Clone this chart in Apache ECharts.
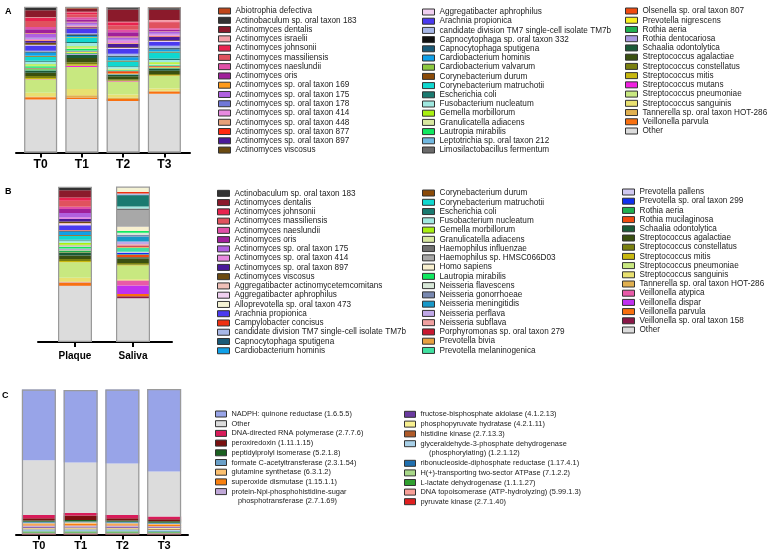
<!DOCTYPE html>
<html><head><meta charset="utf-8">
<script src="https://cdn.jsdelivr.net/npm/echarts@6/dist/echarts.min.js"></script>
<style>html,body{margin:0;padding:0;background:#fff}#c{width:769px;height:553px}</style>
</head><body><div id="c"></div>
<script>
// ---------- DATA ----------
const catA = ['T0', 'T1', 'T2', 'T3'];
const speciesA = [
 'Abiotrophia defectiva','Actinobaculum sp. oral taxon 183','Actinomyces dentalis','Actinomyces israelii',
 'Actinomyces johnsonii','Actinomyces massiliensis','Actinomyces naeslundii','Actinomyces oris',
 'Actinomyces sp. oral taxon 169','Actinomyces sp. oral taxon 175','Actinomyces sp. oral taxon 178',
 'Actinomyces sp. oral taxon 414','Actinomyces sp. oral taxon 448','Actinomyces sp. oral taxon 877',
 'Actinomyces sp. oral taxon 897','Actinomyces viscosus',
 'Aggregatibacter aphrophilus','Arachnia propionica','candidate division TM7 single-cell isolate TM7b',
 'Capnocytophaga sp. oral taxon 332','Capnocytophaga sputigena','Cardiobacterium hominis',
 'Cardiobacterium valvarum','Corynebacterium durum','Corynebacterium matruchotii','Escherichia coli',
 'Fusobacterium nucleatum','Gemella morbillorum','Granulicatella adiacens','Lautropia mirabilis',
 'Leptotrichia sp. oral taxon 212','Limosilactobacillus fermentum',
 'Olsenella sp. oral taxon 807','Prevotella nigrescens','Rothia aeria','Rothia dentocariosa',
 'Schaalia odontolytica','Streptococcus agalactiae','Streptococcus constellatus','Streptococcus mitis',
 'Streptococcus mutans','Streptococcus pneumoniae','Streptococcus sanguinis',
 'Tannerella sp. oral taxon HOT-286','Veillonella parvula','Other'
];
const valuesA_T0 = [0.3,2.1,4.9,0.4,2.1,4.2,1.5,2.8,0.3,2.8,0.4,1.1,0.3,0.3,1.3,1.3,0.6,3.6,0.4,0.3,0.6,2.1,0.3,0.6,2.6,0.6,1.7,0.9,0.6,0.9,0.3,0.2,0.2,0.3,0.9,0.3,1.3,2.3,1.3,0.8,0.2,9.1,2.6,0.5,1.5,36.5];
const valuesA_T1 = [1.2,0.3,2.0,0.3,1.4,2.0,1.6,1.6,0.3,1.6,0.5,0.7,0.3,0.3,0.7,0.3,0.3,2.8,0.7,0.3,0.9,0.7,0.3,0.3,2.8,0.7,2.2,1.0,1.0,1.0,0.5,0.3,0.2,0.5,0.7,0.8,2.1,3.0,1.4,1.0,0.8,15.2,4.2,1.6,1.0,36.8];
const valuesA_T2 = [0.3,1.4,8.5,0.3,2.0,3.2,1.6,3.0,0.5,1.7,0.4,1.8,0.5,0.3,2.2,0.5,0.5,3.4,1.4,0.3,0.7,2.3,0.3,0.3,3.4,0.5,1.2,0.3,0.5,0.3,0.3,0.2,1.6,0.3,0.3,0.3,1.0,2.1,0.9,0.5,0.2,8.8,2.1,1.0,1.4,35.4];
const valuesA_T3 = [0.3,1.4,7.0,1.0,0.5,4.2,1.0,1.0,0.3,1.4,0.5,1.0,0.3,0.3,2.4,0.5,0.5,2.8,1.4,0.3,0.9,1.4,0.3,0.3,4.2,1.0,1.6,1.0,0.7,0.5,0.3,0.2,0.7,0.3,0.5,0.3,1.4,2.1,0.7,0.5,0.2,8.6,1.6,0.5,1.6,40.3];

const catB = ['Plaque', 'Saliva'];
const speciesB = [
 'Actinobaculum sp. oral taxon 183','Actinomyces dentalis','Actinomyces johnsonii','Actinomyces massiliensis',
 'Actinomyces naeslundii','Actinomyces oris','Actinomyces sp. oral taxon 175','Actinomyces sp. oral taxon 414',
 'Actinomyces sp. oral taxon 897','Actinomyces viscosus','Aggregatibacter actinomycetemcomitans',
 'Aggregatibacter aphrophilus','Alloprevotella sp. oral taxon 473','Arachnia propionica','Campylobacter concisus',
 'candidate division TM7 single-cell isolate TM7b','Capnocytophaga sputigena','Cardiobacterium hominis',
 'Corynebacterium durum','Corynebacterium matruchotii','Escherichia coli','Fusobacterium nucleatum',
 'Gemella morbillorum','Granulicatella adiacens','Haemophilus influenzae','Haemophilus sp. HMSC066D03',
 'Homo sapiens','Lautropia mirabilis','Neisseria flavescens','Neisseria gonorrhoeae','Neisseria meningitidis',
 'Neisseria perflava','Neisseria subflava','Porphyromonas sp. oral taxon 279','Prevotella bivia',
 'Prevotella melaninogenica',
 'Prevotella pallens','Prevotella sp. oral taxon 299','Rothia aeria','Rothia mucilaginosa','Schaalia odontolytica',
 'Streptococcus agalactiae','Streptococcus constellatus','Streptococcus mitis','Streptococcus pneumoniae',
 'Streptococcus sanguinis','Tannerella sp. oral taxon HOT-286','Veillonella atypica','Veillonella dispar',
 'Veillonella parvula','Veillonella sp. oral taxon 158','Other'
];
const valuesB_Plaque = [2.2,4.6,2.2,3.8,1.5,2.6,2.8,1.0,1.7,1.0,0.5,0.5,0.3,3.2,0.3,0.3,0.5,2.0,
 0.5,2.6,0.5,1.5,1.2,0.6,0.3,0.3,0.3,1.0,0.15,0.15,0.15,0.15,0.15,0.15,0.15,0.15,
 0.15,0.15,1.0,0.3,1.7,2.2,1.3,0.8,10.1,2.4,0.6,0.2,0.2,1.7,0.2,36.1];
const valuesB_Saliva = [0,0.2,0,0,0,0,0,0,0,0,0,0,3.4,0,0.9,0.8,0.3,0,
 0,0,7.3,1.3,0,0,0.9,10.8,2.8,1.1,1.5,1.0,3.2,1.7,0.9,0.8,0.6,2.6,
 0.8,0.8,0.3,1.7,0.8,2.8,1.1,0.6,8.8,0.6,0.3,3.2,5.4,1.5,1.3,28.2];

const catC = ['T0', 'T1', 'T2', 'T3'];
const enzymesC = [
 'NADPH: quinone reductase (1.6.5.5)','Other','DNA-directed RNA polymerase (2.7.7.6)','peroxiredoxin (1.11.1.15)',
 'peptidylprolyl isomerase (5.2.1.8)','formate C-acetyltransferase (2.3.1.54)','glutamine synthetase (6.3.1.2)',
 'superoxide dismutase (1.15.1.1)','protein-Npi-phosphohistidine-sugar phosphotransferase (2.7.1.69)',
 'fructose-bisphosphate aldolase (4.1.2.13)','phosphopyruvate hydratase (4.2.1.11)','histidine kinase (2.7.13.3)',
 'glyceraldehyde-3-phosphate dehydrogenase (phosphorylating) (1.2.1.12)',
 'ribonucleoside-diphosphate reductase (1.17.4.1)','H(+)-transporting two-sector ATPase (7.1.2.2)',
 'L-lactate dehydrogenase (1.1.1.27)','DNA topoisomerase (ATP-hydrolyzing) (5.99.1.3)','pyruvate kinase (2.7.1.40)'
];
const valuesC_T0 = [48.5,37.7,2.3,1.4,1.0,0.9,0.8,0.9,0.8,0.6,0.6,0.5,0.8,0.6,0.6,0.5,0.6,0.5];
const valuesC_T1 = [49.8,34.7,1.8,3.0,1.0,0.8,0.8,1.3,0.7,0.6,0.7,0.5,0.8,0.6,0.6,0.5,0.6,0.5];
const valuesC_T2 = [50.8,35.4,2.3,1.4,1.0,0.9,0.8,0.9,0.8,0.6,0.6,0.5,0.8,0.6,0.6,0.5,0.6,0.5];
const valuesC_T3 = [56.7,31.0,1.8,1.4,1.0,0.8,0.8,0.8,0.7,0.5,0.6,0.6,0.7,0.5,0.5,0.5,0.6,0.5];

// ---------- STYLE ----------
const palette = {
 'Abiotrophia defectiva':'#c0461a','Actinobaculum sp. oral taxon 183':'#333333','Actinomyces dentalis':'#8b1a2b',
 'Actinomyces israelii':'#f4a0a8','Actinomyces johnsonii':'#e8234f','Actinomyces massiliensis':'#e0525e',
 'Actinomyces naeslundii':'#e050a8','Actinomyces oris':'#a0209a','Actinomyces sp. oral taxon 169':'#ff9a1a',
 'Actinomyces sp. oral taxon 175':'#b060e0','Actinomyces sp. oral taxon 178':'#7078d8',
 'Actinomyces sp. oral taxon 414':'#e88ae0','Actinomyces sp. oral taxon 448':'#e8a078',
 'Actinomyces sp. oral taxon 877':'#ff2a10','Actinomyces sp. oral taxon 897':'#4a1a9a',
 'Actinomyces viscosus':'#6b4a10','Aggregatibacter aphrophilus':'#f0d0f0','Arachnia propionica':'#4a3af0',
 'candidate division TM7 single-cell isolate TM7b':'#a8b8e8','Capnocytophaga sp. oral taxon 332':'#111111',
 'Capnocytophaga sputigena':'#1a5a78','Cardiobacterium hominis':'#10a0e8','Cardiobacterium valvarum':'#8cc840',
 'Corynebacterium durum':'#8a4a08','Corynebacterium matruchotii':'#10d8d0','Escherichia coli':'#1a7a70',
 'Fusobacterium nucleatum':'#a0e8e0','Gemella morbillorum':'#a8f010','Granulicatella adiacens':'#d8e8a0',
 'Lautropia mirabilis':'#10e860','Leptotrichia sp. oral taxon 212':'#70b8e0',
 'Limosilactobacillus fermentum':'#6a6a6a','Olsenella sp. oral taxon 807':'#f04a10',
 'Prevotella nigrescens':'#f8f020','Rothia aeria':'#20b050','Rothia dentocariosa':'#a898e0',
 'Schaalia odontolytica':'#1a5a38','Streptococcus agalactiae':'#3a5010','Streptococcus constellatus':'#7a8010',
 'Streptococcus mitis':'#c8b810','Streptococcus mutans':'#f020e0','Streptococcus pneumoniae':'#c8e880',
 'Streptococcus sanguinis':'#e8e070','Tannerella sp. oral taxon HOT-286':'#e0b050','Veillonella parvula':'#f87010',
 'Other':'#dcdcdc',
 'Aggregatibacter actinomycetemcomitans':'#f0c0b8','Alloprevotella sp. oral taxon 473':'#f4f2d4',
 'Campylobacter concisus':'#f03010','Haemophilus influenzae':'#707070','Haemophilus sp. HMSC066D03':'#a8a8a8',
 'Homo sapiens':'#f8f0d0','Neisseria flavescens':'#d8e8d8','Neisseria gonorrhoeae':'#7888b0',
 'Neisseria meningitidis':'#1898c8','Neisseria perflava':'#c0a8e8','Neisseria subflava':'#f0a0a0',
 'Porphyromonas sp. oral taxon 279':'#c81830','Prevotella bivia':'#e8a040','Prevotella melaninogenica':'#40e0a0',
 'Prevotella pallens':'#d0c8f0','Prevotella sp. oral taxon 299':'#1030f0','Rothia mucilaginosa':'#f04a10',
 'Veillonella atypica':'#e85aa8','Veillonella dispar':'#c030f0','Veillonella sp. oral taxon 158':'#8a1848',
 'NADPH: quinone reductase (1.6.5.5)':'#98a4e8','DNA-directed RNA polymerase (2.7.7.6)':'#d81c5a',
 'peroxiredoxin (1.11.1.15)':'#7a1010','peptidylprolyl isomerase (5.2.1.8)':'#1a6020',
 'formate C-acetyltransferase (2.3.1.54)':'#6aa0c8','glutamine synthetase (6.3.1.2)':'#fcc070',
 'superoxide dismutase (1.15.1.1)':'#f88010',
 'protein-Npi-phosphohistidine-sugar phosphotransferase (2.7.1.69)':'#c0a8d8',
 'fructose-bisphosphate aldolase (4.1.2.13)':'#6a3aa0','phosphopyruvate hydratase (4.2.1.11)':'#f8f090',
 'histidine kinase (2.7.13.3)':'#b05a28',
 'glyceraldehyde-3-phosphate dehydrogenase (phosphorylating) (1.2.1.12)':'#a8d0e8',
 'ribonucleoside-diphosphate reductase (1.17.4.1)':'#2070b0',
 'H(+)-transporting two-sector ATPase (7.1.2.2)':'#a8d888','L-lactate dehydrogenase (1.1.1.27)':'#30a030',
 'DNA topoisomerase (ATP-hydrolyzing) (5.99.1.3)':'#f8a098','pyruvate kinase (2.7.1.40)':'#e02020'
};
const legendFirstLine = {
 'protein-Npi-phosphohistidine-sugar phosphotransferase (2.7.1.69)':'protein-Npi-phosphohistidine-sugar',
 'glyceraldehyde-3-phosphate dehydrogenase (phosphorylating) (1.2.1.12)':'glyceraldehyde-3-phosphate dehydrogenase'
};
const FONT = '"Liberation Sans", Arial, Helvetica, sans-serif';

function stackSeries(names, cols, axis, barWidth) {
  const out = [];
  for (let i = names.length - 1; i >= 0; i--) {
    out.push({
      type: 'bar', name: names[i], xAxisIndex: axis, yAxisIndex: axis, stack: 's' + axis,
      barWidth: barWidth, barGap: '-100%', silent: true,
      data: cols.map(c => c[i]),
      itemStyle: { color: palette[names[i]] }
    });
  }
  out.push({
    type: 'bar', name: '__outline' + axis, xAxisIndex: axis, yAxisIndex: axis,
    barWidth: barWidth, barGap: '-100%', silent: true, z: 5,
    data: cols.map(c => c.reduce((a, b) => a + b, 0)),
    itemStyle: { color: 'rgba(0,0,0,0)', borderColor: '#9a9a9a', borderWidth: 1.2 }
  });
  return out;
}

function catAxis(grid, data, fontSize, margin) {
  return {
    type: 'category', gridIndex: grid, data: data,
    axisLine: { show: false },
    axisTick: { show: true, alignWithLabel: true, length: 5, lineStyle: { color: '#000', width: 2 } },
    axisLabel: { fontFamily: FONT, fontWeight: 'bold', fontSize: fontSize, color: '#000', margin: margin }
  };
}
function lineAxis(grid) {
  return {
    type: 'value', gridIndex: grid, min: 0, max: 1,
    axisLine: { show: true, onZero: false, lineStyle: { color: '#000', width: 2 } },
    axisTick: { show: false }, axisLabel: { show: false }, splitLine: { show: false }
  };
}
function hiddenY(grid) {
  return { type: 'value', gridIndex: grid, min: 0, max: 100, show: false, splitLine: { show: false } };
}
function legendCol(names, left, top, pitch, fontSize, iw) {
  return {
    orient: 'vertical', left: left, top: top, padding: 0, itemGap: 0,
    itemWidth: iw || 12, itemHeight: 6, icon: 'rect', selectedMode: false,
    data: names,
    formatter: n => legendFirstLine[n] || n,
    itemStyle: { borderColor: '#333', borderWidth: 1 },
    textStyle: { fontFamily: FONT, fontSize: fontSize, lineHeight: pitch, color: '#222' }
  };
}

const series = [].concat(
  stackSeries(speciesA, [valuesA_T0, valuesA_T1, valuesA_T2, valuesA_T3], 0, 33),
  stackSeries(speciesB, [valuesB_Plaque, valuesB_Saliva], 1, 34),
  stackSeries(enzymesC, [valuesC_T0, valuesC_T1, valuesC_T2, valuesC_T3], 2, 34)
);

const option = {
  animation: false,
  backgroundColor: '#fff',
  grid: [
    { left: 20, top: 7, width: 165, height: 145.5 },
    { left: 46, top: 187, width: 116, height: 155 },
    { left: 18, top: 389, width: 167, height: 145.5 },
    { left: 16, top: 7, width: 174, height: 145.5 },
    { left: 38, top: 187, width: 134, height: 155 },
    { left: 16, top: 389, width: 172, height: 145.5 }
  ],
  xAxis: [
    catAxis(0, catA, 12, 6), catAxis(1, catB, 10, 9), catAxis(2, catC, 11, 6),
    lineAxis(3), lineAxis(4), lineAxis(5)
  ],
  yAxis: [hiddenY(0), hiddenY(1), hiddenY(2), hiddenY(3), hiddenY(4), hiddenY(5)],
  legend: [
    legendCol(speciesA.slice(0, 16), 218, 6.4, 9.27, 8.2),
    legendCol(speciesA.slice(16, 32), 422, 7.4, 9.2, 8.2),
    legendCol(speciesA.slice(32), 625, 6.4, 9.23, 8.2),
    legendCol(speciesB.slice(0, 18), 217, 188.7, 9.26, 8.2),
    legendCol(speciesB.slice(18, 36), 422, 188.4, 9.26, 8.2),
    legendCol(speciesB.slice(36), 622, 187.4, 9.2, 8.2),
    legendCol(enzymesC.slice(0, 9), 215, 409.15, 9.7, 7.4, 11),
    legendCol(enzymesC.slice(9, 13), 404, 409.4, 9.8, 7.4, 11),
    legendCol(enzymesC.slice(13), 404, 458.5, 9.6, 7.4, 11)
  ],
  graphic: [
    { type: 'text', left: 5, top: 7, style: { text: 'A', font: 'bold 9px ' + FONT, fill: '#000' } },
    { type: 'text', left: 5, top: 187, style: { text: 'B', font: 'bold 9px ' + FONT, fill: '#000' } },
    { type: 'text', left: 2, top: 391, style: { text: 'C', font: 'bold 9px ' + FONT, fill: '#000' } },
    { type: 'text', left: 238, top: 497, style: { text: 'phosphotransferase (2.7.1.69)', font: '7.4px ' + FONT, fill: '#222' } },
    { type: 'text', left: 429, top: 449, style: { text: '(phosphorylating) (1.2.1.12)', font: '7.4px ' + FONT, fill: '#222' } }
  ],
  series: series
};
const chart = echarts.init(document.getElementById('c'), null, { renderer: 'canvas' });
chart.setOption(option);
</script></body></html>
